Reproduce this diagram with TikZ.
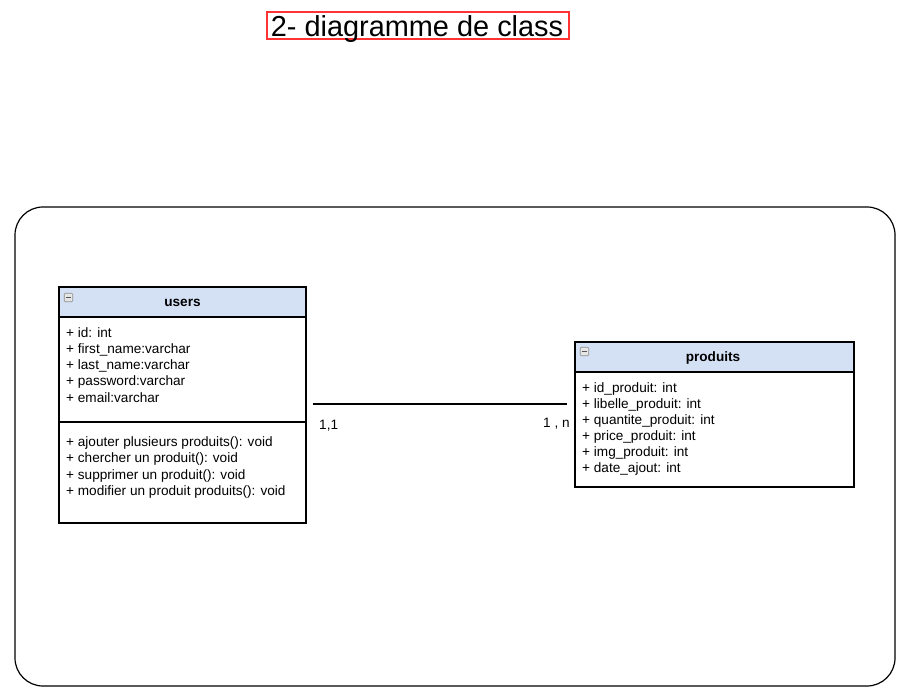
\documentclass[tikz,border=0pt]{standalone}
\usepackage{fontspec}
\setmainfont{Liberation Sans}
\definecolor{hdrblue}{HTML}{D4E1F5}
\definecolor{titlered}{HTML}{FF3333}
\definecolor{icongray}{HTML}{8C8C8C}
\definecolor{iconfill}{HTML}{E6E6E6}
\tikzset{
  classbox/.style={draw=black, line width=1.1pt, inner sep=0pt, fill=white},
  classhdr/.style={draw=black, line width=1.1pt, inner sep=0pt, fill=hdrblue, font=\bfseries\fontsize{13.6}{16}\selectfont},
  member/.style={anchor=base west, inner sep=0pt, font=\fontsize{13.6}{16}\selectfont},
  multlabel/.style={anchor=base west, inner sep=0pt, font=\fontsize{13.6}{16}\selectfont},
  minusicon/.style={draw=icongray, fill=iconfill, rounded corners=1pt, line width=0.6pt, minimum width=8.5pt, minimum height=8.5pt, inner sep=0pt},
  assoc/.style={draw=black, line width=2.6pt},
}
\begin{document}
\begin{tikzpicture}[x=1pt,y=-1pt]
\useasboundingbox (0,0) rectangle (904,692);
% title
\node[draw=titlered, line width=1.2pt, minimum width=302pt, minimum height=27pt, inner sep=0pt] (titlebox) at (418,25.5) {};
\node[anchor=base, inner sep=0pt, font=\fontsize{28.9}{33}\selectfont] (title) at (417,36.5) {2- diagramme de class};
% outer frame
\node[draw=black, line width=1.2pt, rounded corners=28pt, minimum width=880pt, minimum height=479pt, inner sep=0pt] (frame) at (455,446.5) {};
% users class
\node[classbox, minimum width=247pt, minimum height=236pt] (users) at (182.5,405) {};
\node[classhdr, minimum width=247pt, minimum height=30pt, anchor=north] (usersh) at (users.north) {};
\node[anchor=base, inner sep=0pt, font=\bfseries\fontsize{13.6}{16}\selectfont] (usersname) at (182.5,307) {users};
\node[minusicon] (usersicon) at (68.5,297.5) {};
\draw[icongray!60!black, line width=1pt] ([xshift=-2.5pt]usersicon.center) -- ([xshift=2.5pt]usersicon.center);
\draw[line width=1.1pt] (users.west |- 0,422) coordinate (usepl) -- (users.east |- 0,422) coordinate (usepr);
\node[member] (ua1) at (66,337) {+ id: int};
\node[member] (ua2) at (66,353.25) {+ first\_name:varchar};
\node[member] (ua3) at (66,369.5) {+ last\_name:varchar};
\node[member] (ua4) at (66,385.75) {+ password:varchar};
\node[member] (ua5) at (66,402) {+ email:varchar};
\node[member] (um1) at (66,446.5) {+ ajouter plusieurs produits(): void};
\node[member] (um2) at (66,462.75) {+ chercher un produit(): void};
\node[member] (um3) at (66,479) {+ supprimer un produit(): void};
\node[member] (um4) at (66,495.25) {+ modifier un produit produits(): void};
% produits class
\node[classbox, minimum width=279pt, minimum height=145pt] (produits) at (714.5,414.5) {};
\node[classhdr, minimum width=279pt, minimum height=30pt, anchor=north] (produitsh) at (produits.north) {};
\node[anchor=base, inner sep=0pt, font=\bfseries\fontsize{13.6}{16}\selectfont] (produitsname) at (713,361) {produits};
\node[minusicon] (produitsicon) at (584.5,351.5) {};
\draw[icongray!60!black, line width=1pt] ([xshift=-2.5pt]produitsicon.center) -- ([xshift=2.5pt]produitsicon.center);
\node[member] (pa1) at (582,392.5) {+ id\_produit: int};
\node[member] (pa2) at (582,408.5) {+ libelle\_produit: int};
\node[member] (pa3) at (582,424.5) {+ quantite\_produit: int};
\node[member] (pa4) at (582,440.5) {+ price\_produit: int};
\node[member] (pa5) at (582,456.5) {+ img\_produit: int};
\node[member] (pa6) at (582,472.5) {+ date\_ajout: int};
% association
\draw[assoc] ([xshift=6pt,yshift=1pt]users.east) coordinate (assocA) -- ([xshift=-7pt]produits.west |- assocA) coordinate (assocB);
\node[multlabel] (m11) at (319,429) {1,1};
\node[multlabel] (m1n) at (543,427) {1 , n};
\end{tikzpicture}
\end{document}
